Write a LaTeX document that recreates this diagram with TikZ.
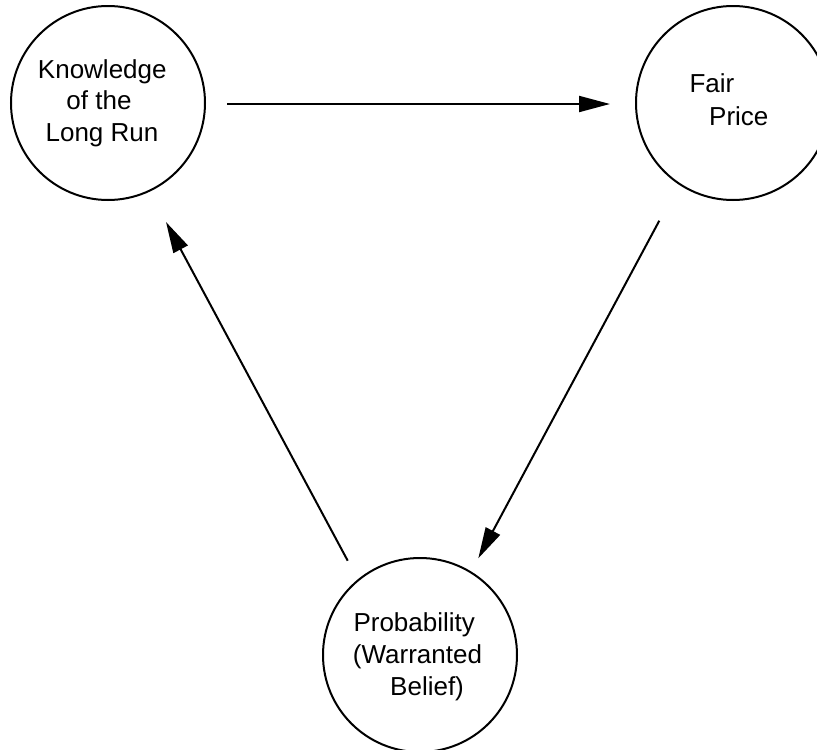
\documentclass[tikz,border=0pt]{standalone}
\usepackage{fontspec}
\setmainfont{Liberation Sans}
\usetikzlibrary{arrows.meta}
\begin{document}
\begin{tikzpicture}[x=1pt,y=-1pt,
  bubble/.style={circle,draw,line width=2pt,minimum size=194pt,inner sep=0pt},
  lbl/.style={anchor=base west,inner sep=0pt,font=\fontsize{26}{31}\selectfont},
  lblc/.style={anchor=base,inner sep=0pt,font=\fontsize{26}{31}\selectfont},
  conn/.style={line width=2pt,-{Triangle[length=31pt,width=16pt]}}]
\useasboundingbox (0,0) rectangle (817,750);
\begin{scope}
\clip (0,0) rectangle (817,750);
\node[bubble] (k) at (108,103) {};
\node[bubble] (f) at (733,103) {};
\node[bubble] (p) at (420,655) {};
\end{scope}
\node[lblc] (k1) at (102.3,78.5) {Knowledge};
\node[lblc] (k2) at (99,109.5) {of the};
\node[lblc] (k3) at (102,141) {Long Run};
\node[lbl] (f1) at (689.3,92.3) {Fair};
\node[lbl] (f2) at (709,125) {Price};
\node[lbl] (p1) at (353.3,631.7) {Probability};
\node[lbl] (p2) at (352.7,663.5) {(Warranted};
\node[lbl] (p3) at (390,695) {Belief)};
\coordinate (kf1) at (227,104);
\coordinate (kf2) at (610,104);
\coordinate (fp1) at (659.3,220.7);
\coordinate (fp2) at (478.3,558.3);
\coordinate (pk1) at (347.7,560.7);
\coordinate (pk2) at (166,222);
\draw[conn] (kf1) -- (kf2);
\draw[conn] (fp1) -- (fp2);
\draw[conn] (pk1) -- (pk2);
\end{tikzpicture}
\end{document}
